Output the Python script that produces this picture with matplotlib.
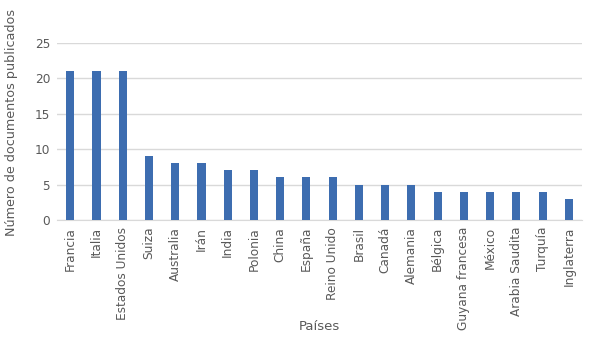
import numpy as np
import matplotlib.pyplot as plt

paises = ['Francia', 'Italia', 'Estados Unidos', 'Suiza', 'Australia', 'Irán',
          'India', 'Polonia', 'China', 'España', 'Reino Unido', 'Brasil',
          'Canadá', 'Alemania', 'Bélgica', 'Guyana francesa', 'México',
          'Arabia Saudita', 'Turquía', 'Inglaterra']
documentos = [21, 21, 21, 9, 8, 8, 7, 7, 6, 6, 6, 5, 5, 5, 4, 4, 4, 4, 4, 3]

plt.rcParams['font.family'] = 'DejaVu Sans'
fig = plt.figure(figsize=(5.89, 3.42), dpi=100)
ax = fig.add_axes([0.097, 0.357, 0.891, 0.517])

x = np.arange(len(paises))
ax.bar(x, documentos, width=0.31, color='#3D6DB0', zorder=3)

ax.set_xlim(-0.5, len(paises) - 0.5)
ax.set_ylim(0, 25)
ax.set_yticks(np.arange(0, 26, 5))
ax.yaxis.grid(True, color='#d9d9d9', linewidth=1, zorder=0)
ax.set_xticks(x)
ax.set_xticklabels(paises, rotation=90)
ax.tick_params(axis='both', length=0, labelsize=8.7, colors='#595959', pad=5)
for s in ['top', 'right', 'left']:
    ax.spines[s].set_visible(False)
ax.spines['bottom'].set_color('#d9d9d9')

ax.set_xlabel('Países', fontsize=9.5, color='#595959')
ax.xaxis.set_label_coords(0.5, -0.565)
ax.set_ylabel('Número de documentos publicados', fontsize=9.2, color='#595959')
ax.yaxis.set_label_coords(-0.075, 0.55)

fig.savefig('out.png', dpi=100)
